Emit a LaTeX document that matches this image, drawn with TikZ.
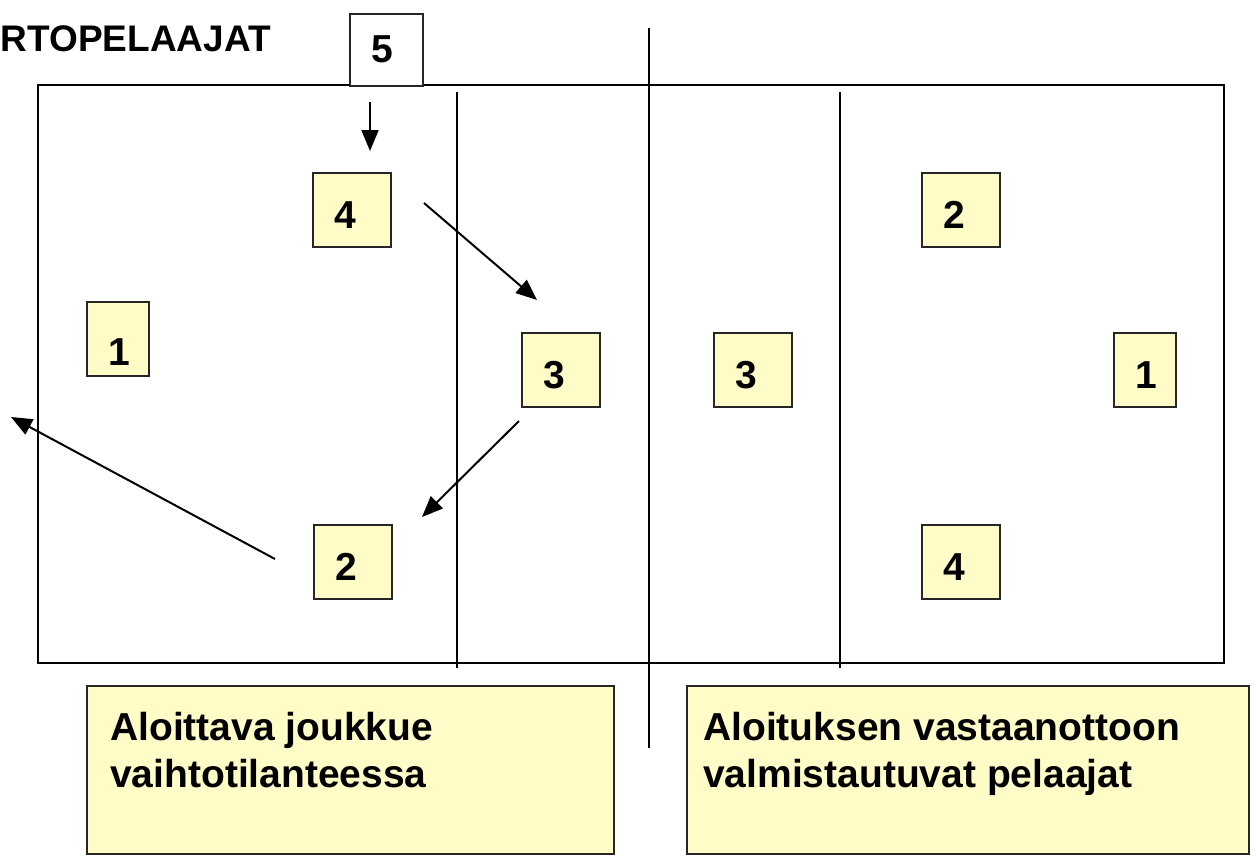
\documentclass[tikz,border=0pt]{standalone}
\usepackage{fontspec}
\setmainfont{Liberation Sans}
\usepackage{xcolor}
\usetikzlibrary{arrows.meta,positioning}

\newcommand{\bigbold}{\fontsize{39}{47}\selectfont\bfseries}

\begin{document}
\begin{tikzpicture}[x=1pt, y=-1pt,
	player/.style={draw=black!85, line width=1.6pt, fill=yellow!22, anchor=north west, align=left,
		inner xsep=22pt, inner ysep=0pt, text width=34pt, minimum height=74pt,
		text height=38pt, text depth=0pt, font=\bigbold},
	move/.style={line width=2pt, -{Triangle[length=21pt, width=17pt]}},
	infobox/.style={draw=black!85, line width=1.6pt, fill=yellow!22, anchor=north west, inner sep=0pt},
	infotext/.style={font=\bigbold, align=left, anchor=north west, inner sep=0pt}]

\useasboundingbox (0, 0) rectangle (1256, 855); % limit img size

	% court
	\draw[line width=2pt] (38, 85) rectangle (1224, 663);
	\draw[line width=1.5pt] (457, 92) to (457, 668);
	\draw[line width=1.5pt] (649, 28) to (649, 748);
	\draw[line width=1.5pt] (840, 92) to (840, 668);

	% title
	\node[font=\fontsize{37}{45}\selectfont\bfseries, anchor=base east, inner sep=0pt] (title) at (271, 51) {RTOPELAAJAT};

	% substitute
	\node[player, fill=white, text width=29pt, minimum height=72pt, text height=25pt] (sub5) at (349, 13) {5};

	% serving team
	\node[player, text width=18pt, text height=53pt] (l1) at (86, 301) {1};
	\node[player] (l4) at (312, 172) {4};
	\node[player] (l2) at (313, 524) {2};
	\node[player] (l3) at (521, 332) {3};

	% receiving team
	\node[player] (r3) at (713, 332) {3};
	\node[player] (r2) at (921, 172) {2};
	\node[player] (r4) at (921, 524) {4};
	\node[player, text width=18pt] (r1) at (1113, 332) {1};

	% rotation
	\coordinate (subin) at (370, 102);
	\coordinate (subto) at (370, 151);
	\coordinate (l4from) at (424, 203);
	\coordinate (l4to) at (537, 300);
	\coordinate (l3from) at (519, 421);
	\coordinate (l3to) at (422, 517);
	\coordinate (l2from) at (275, 559);
	\coordinate (l2to) at (11, 417);
	\draw[move] (subin) to (subto);
	\draw[move] (l4from) to (l4to);
	\draw[move] (l3from) to (l3to);
	\draw[move] (l2from) to (l2to);

	% captions
	\node[infobox, minimum width=527pt, minimum height=168pt] (leftinfo) at (86, 685) {};
	\node[infobox, minimum width=562pt, minimum height=168pt] (rightinfo) at (686, 685) {};
	\node[infotext] (lefttext) at ([shift={(24, 27)}]leftinfo.north west) {Aloittava joukkue\\vaihtotilanteessa};
	\node[infotext] (righttext) at ([shift={(17, 27)}]rightinfo.north west) {Aloituksen vastaanottoon\\valmistautuvat pelaajat};

\end{tikzpicture}
\end{document}
